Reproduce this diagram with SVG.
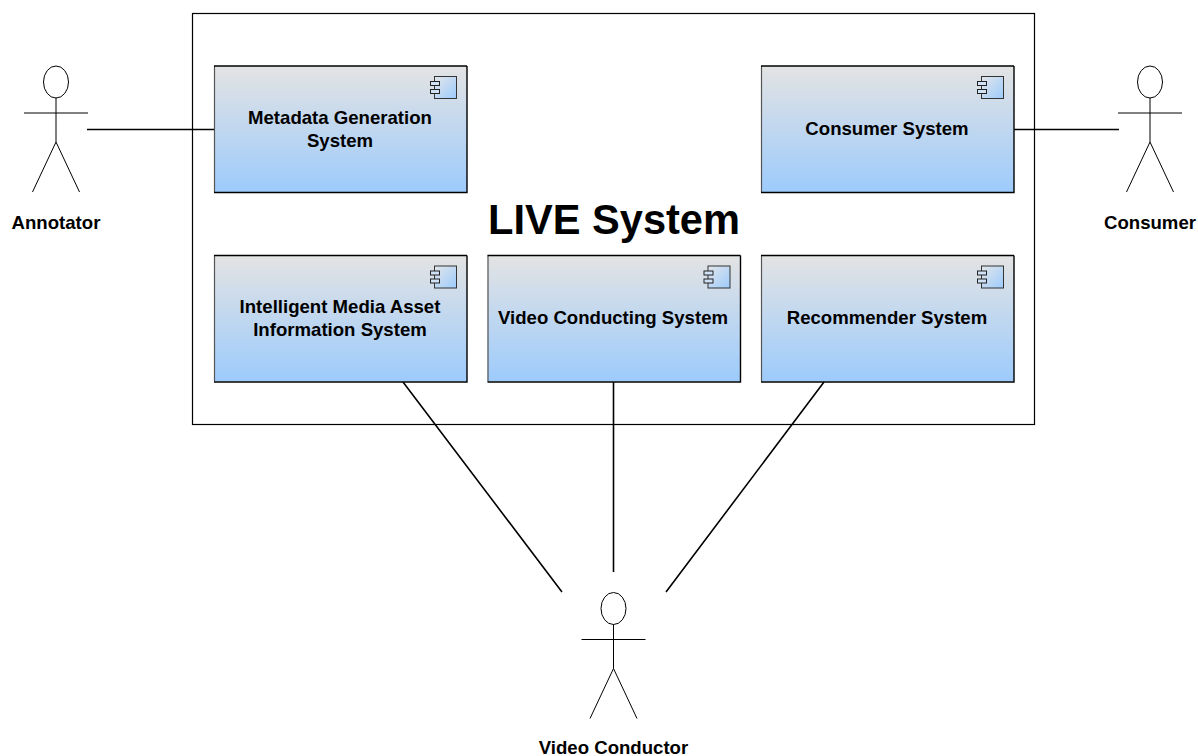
<svg xmlns="http://www.w3.org/2000/svg" width="1198" height="756" viewBox="0 0 1198 756">
<style>
text{font-family:"Liberation Sans",Arial,sans-serif;font-weight:bold;fill:#000;text-anchor:middle}
.l{font-size:18.6px}
.a{font-size:18.6px}
.c{fill:url(#g);stroke:none}
.conn{stroke:#000;stroke-width:1.6;fill:none}
.ic{fill:url(#g2);stroke:#333;stroke-width:1}
.s{fill:none;stroke:#000;stroke-width:1}
</style>
<defs>
<linearGradient id="g" x1="0" y1="0" x2="0" y2="1"><stop offset="0" stop-color="#e3e3e3"/><stop offset="1" stop-color="#9dcbfc"/></linearGradient>
<linearGradient id="g2" x1="0" y1="0" x2="1" y2="1"><stop offset="0" stop-color="#e3e6ea"/><stop offset="1" stop-color="#9dcbfc"/></linearGradient>
<g id="box">
<rect class="c" x="0" y="0" width="253" height="126"/>
<path d="M0.500 126V0" stroke="#555" stroke-width="1.2" fill="none"/>
<path d="M0 0H253" stroke="#000" stroke-width="1.4" fill="none"/>
<path d="M253 0V126.500H0" stroke="#000" stroke-width="1.4" fill="none"/>
<rect class="ic" x="220.500" y="10.500" width="22" height="22"/>
<rect x="216.500" y="15.500" width="9" height="4" fill="#cfe2f6" stroke="#222"/>
<rect x="216.500" y="23.500" width="9" height="4" fill="#cfe2f6" stroke="#222"/>
</g>
<g id="actor">
<ellipse cx="0" cy="-31" rx="12.500" ry="16" class="s"/>
<path d="M0 -15V29M-32 0H32M0 29L-23.500 79M0 29L23.500 79" class="s"/>
</g>
</defs>
<g id="live-system">
<rect x="192.500" y="13.500" width="842" height="411" fill="#fff" stroke="#000" stroke-width="1.2"/>
<text x="614" y="234" style="font-size:41.6px">LIVE System</text>
</g>
<g id="connectors">
<path class="conn" d="M87 129.500H214M1014 129.500H1119M403 382L562 592M613.500 382V572M824 382L666 592"/>
</g>
<g id="metadata"><use href="#box" x="214" y="66"/><text class="l" x="340" y="124">Metadata Generation</text><text class="l" x="340" y="147">System</text></g>
<g id="consumer-system"><use href="#box" x="761" y="66"/><text class="l" x="887" y="135">Consumer System</text></g>
<g id="intelligent"><use href="#box" x="214" y="255.500"/><text class="l" x="340" y="313">Intelligent Media Asset</text><text class="l" x="340" y="336">Information System</text></g>
<g id="conducting"><use href="#box" x="487.500" y="255.500"/><text class="l" x="613" y="324">Video Conducting System</text></g>
<g id="recommender"><use href="#box" x="761" y="255.500"/><text class="l" x="887" y="324">Recommender System</text></g>
<g id="annotator"><use href="#actor" x="56" y="113"/><text class="a" x="56" y="229">Annotator</text></g>
<g id="consumer"><use href="#actor" x="1150" y="113"/><text class="a" x="1150" y="229">Consumer</text></g>
<g id="conductor"><use href="#actor" x="613.500" y="639.500"/><text class="a" x="613.500" y="754">Video Conductor</text></g>
</svg>
